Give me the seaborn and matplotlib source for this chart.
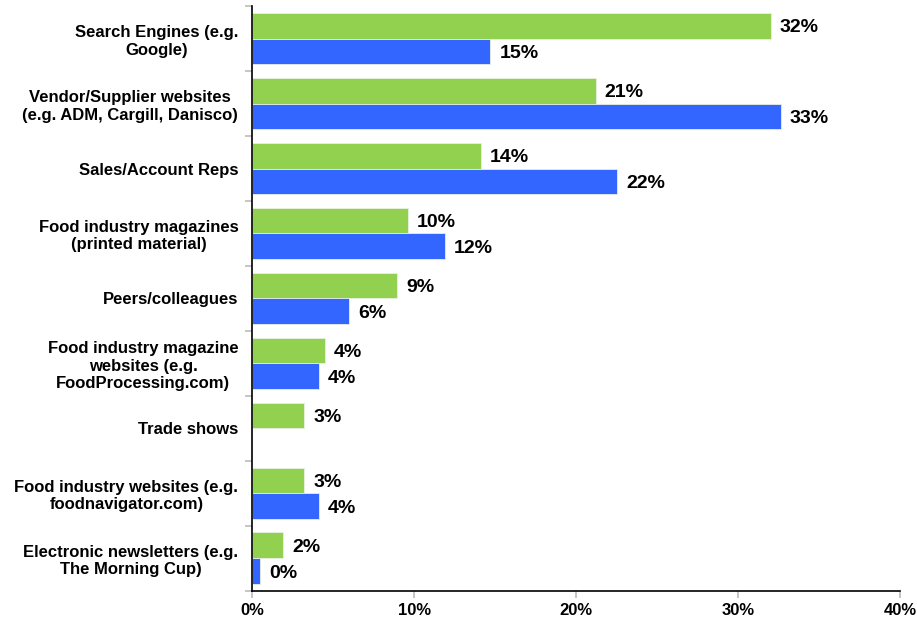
import matplotlib
matplotlib.use("Agg")
import matplotlib.pyplot as plt
import seaborn as sns
import pandas as pd
import numpy as np
from matplotlib.ticker import FixedLocator

categories = [
    "Search Engines (e.g.\nGoogle)",
    "Vendor/Supplier websites\n(e.g. ADM, Cargill, Danisco)",
    "Sales/Account Reps",
    "Food industry magazines\n(printed material)",
    "Peers/colleagues",
    "Food industry magazine\nwebsites (e.g.\nFoodProcessing.com)",
    "Trade shows",
    "Food industry websites (e.g.\nfoodnavigator.com)",
    "Electronic newsletters (e.g.\nThe Morning Cup)",
]
green_values = [32.0, 21.2, 14.1, 9.6, 8.95, 4.5, 3.2, 3.2, 1.9]
blue_values = [14.7, 32.6, 22.5, 11.9, 6.0, 4.1, np.nan, 4.1, 0.5]
green_labels = ["32%", "21%", "14%", "10%", "9%", "4%", "3%", "3%", "2%"]
blue_labels = ["15%", "33%", "22%", "12%", "6%", "4%", "", "4%", "0%"]
series_names = ["Series A", "Series B"]
xticks = [0, 10, 20, 30, 40]
xtick_labels = ["0%", "10%", "20%", "30%", "40%"]

df = pd.DataFrame({
    "category": categories * 2,
    "value": green_values + blue_values,
    "series": [series_names[0]] * len(categories) + [series_names[1]] * len(categories),
})

sns.set_style("white")
plt.rcParams["font.family"] = ["Liberation Sans", "DejaVu Sans"]
plt.rcParams["font.weight"] = "bold"
plt.rcParams["text.color"] = "black"
plt.rcParams["xtick.color"] = "black"
plt.rcParams["ytick.color"] = "black"

fig = plt.figure(figsize=(9.17, 6.21), dpi=100)
ax = fig.add_axes([0.275, 0.049, 0.707, 0.941])

sns.barplot(data=df, y="category", x="value", hue="series", order=categories,
            hue_order=series_names, palette=["#92D050", "#3366FF"], saturation=1,
            width=0.79, gap=0, orient="h", ax=ax, legend=False,
            edgecolor="#e8f0e0", linewidth=0.6)

bar_h = 0.79 / 2
for si, (vals, labels) in enumerate([(green_values, green_labels), (blue_values, blue_labels)]):
    for ci, (v, lab) in enumerate(zip(vals, labels)):
        if not lab or np.isnan(v):
            continue
        yc = ci - 0.79 / 2 + bar_h * (si + 0.5)
        ax.annotate(lab, (v, yc), xytext=(6.5, -1.5), textcoords="offset points",
                    va="center", ha="left", fontsize=14, fontweight="bold",
                    color="black")

ax.set_xlim(0, 40)
ax.set_ylim(len(categories) - 0.5, -0.5)
ax.set_xticks(xticks)
ax.set_xticklabels(xtick_labels, fontsize=12, fontweight="bold")
ax.set_yticks(range(len(categories)))
ax.set_yticklabels(categories, fontsize=12, fontweight="bold", ha="right",
                   multialignment="center", linespacing=1.2)
ax.yaxis.set_minor_locator(FixedLocator(np.arange(-0.5, len(categories) + 0.5, 1)))
ax.tick_params(axis="y", which="major", length=0, pad=10)
ax.tick_params(axis="y", which="minor", length=5, color="#bbbbbb", width=1.2, left=True)
ax.tick_params(axis="x", which="major", length=5, color="#bbbbbb", width=1.2,
               bottom=True, pad=4, labelcolor="black")
ax.set_xlabel("")
ax.set_ylabel("")
for s in ["top", "right"]:
    ax.spines[s].set_visible(False)
for s in ["left", "bottom"]:
    ax.spines[s].set_color("black")
    ax.spines[s].set_linewidth(1.2)

fig.savefig("out.png", dpi=100, facecolor="white")
